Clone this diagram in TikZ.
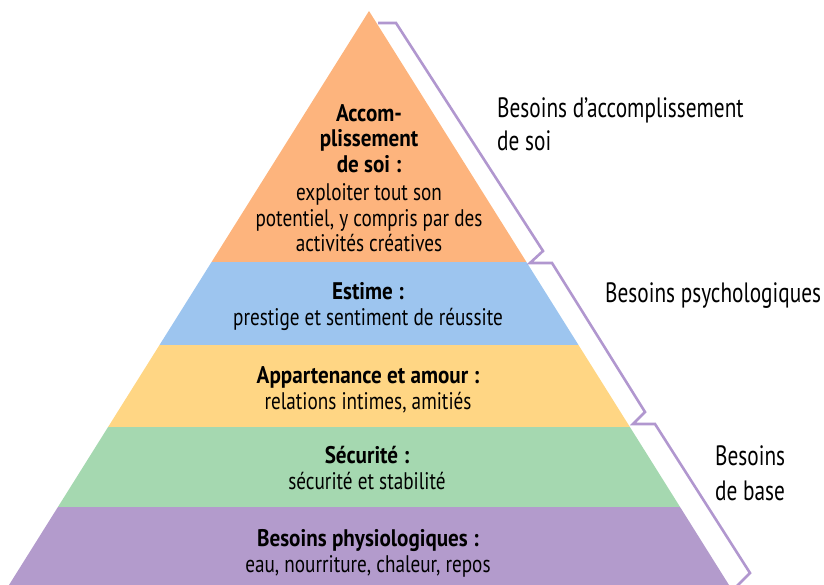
\documentclass[tikz,border=0pt]{standalone}
\usepackage{fontspec}
\setmainfont{PT Sans}[FakeStretch=0.8, BoldFeatures={FakeStretch=0.88}]
\newfontfamily\sidefont{PT Sans}[FakeStretch=0.76]

\definecolor{selforange}{HTML}{FDB47D}
\definecolor{esteemblue}{HTML}{9DC5EF}
\definecolor{loveyellow}{HTML}{FFD684}
\definecolor{safegreen}{HTML}{A5D8B0}
\definecolor{basepurple}{HTML}{B39BCC}
\definecolor{bracketpurple}{HTML}{B197CF}

\begin{document}
\begin{tikzpicture}[x=1pt, y=1pt,
    % Styles
    level/.style={align=center, inner sep=0pt, anchor=north, font=\fontsize{24}{25.5}\selectfont},
    side/.style={align=left, inner sep=0pt, anchor=north west, font=\sidefont\fontsize{28}{33}\selectfont},
    bracket/.style={draw=bracketpurple, line width=2.6pt, line join=miter},
]
\useasboundingbox (0,0) rectangle (824,585);

% Pyramid bands
\begin{scope}
\clip (9,0) -- (369,574) -- (729,0) -- cycle;
\fill[basepurple] (0,0) rectangle (824,78);
\fill[safegreen] (0,78) rectangle (824,158);
\fill[loveyellow] (0,158) rectangle (824,240);
\fill[esteemblue] (0,240) rectangle (824,323);
\fill[selforange] (0,323) rectangle (824,585);
\end{scope}

% Level texts
\node[level] (self) at (369, 481) {\textbf{Accom-}\\\textbf{plissement}\\\textbf{de soi~:}\\[3pt]exploiter tout son\\potentiel, y compris par des\\activités créatives};
\node[level] (esteem) at (368, 303) {\textbf{Estime~:}\\[1pt]prestige et sentiment de réussite};
\node[level] (love) at (368, 219) {\textbf{Appartenance et amour~:}\\[1pt]relations intimes, amitiés};
\node[level] (safety) at (367, 139) {\textbf{Sécurité~:}\\[1pt]sécurité et stabilité};
\node[level] (physio) at (368, 56) {\textbf{Besoins physiologiques~:}\\[1pt]eau, nourriture, chaleur, repos};

% Bracket along the right side
\draw[bracket] (378,562) -- (396,562) -- (543,334) -- (530,322) -- (552,322)
    -- (645,173) -- (633,161) -- (655,161) -- (750,12) -- (737,-1);

% Side labels
\node[side] (selfneeds) at (497, 488) {Besoins d’accomplissement\\de soi};
\node[side] (psychneeds) at (605, 303) {Besoins psychologiques};
\node[side, font=\sidefont\fontsize{28}{35}\selectfont] (baseneeds) at (715, 140) {Besoins\\de base};

\end{tikzpicture}
\end{document}
